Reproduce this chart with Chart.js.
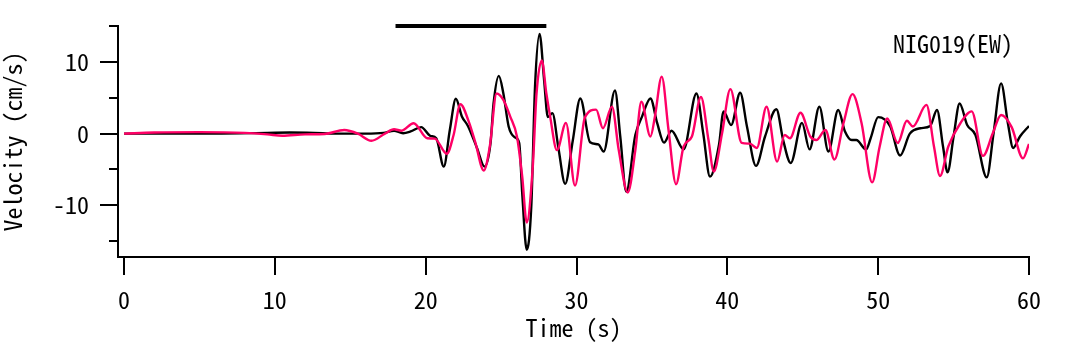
<!DOCTYPE html>
<html>
<head>
<meta charset="utf-8">
<script src="https://cdn.jsdelivr.net/npm/chart.js@4"></script>
<style>
  html, body { margin: 0; padding: 0; background: #fff; }
  #wrap { width: 1090px; height: 344px; }
</style>
</head>
<body>
<div id="wrap"><canvas id="chart" width="1090" height="344"></canvas></div>
<script>
// observed (black) trace, time in s, velocity in cm/s
const blackTime = [0, 3, 6, 9.5, 11, 12.6, 14, 16, 17.2, 17.9, 18.5, 19.0, 19.7, 20.3, 20.7, 21.2, 21.6, 22.0, 22.4, 22.8,
  23.4, 23.9, 24.3, 24.5, 24.85, 25.15, 25.5, 25.9, 26.2, 26.4, 26.7, 27.0, 27.25, 27.55, 27.85, 28.1, 28.4, 28.8,
  29.25, 29.75, 30.25, 30.9, 31.45, 31.8, 32.55, 32.9, 33.3, 33.9, 34.35, 34.9, 35.35, 35.8, 36.3, 37.1, 37.95,
  38.4, 38.85, 39.45, 39.75, 40.25, 40.85, 41.3, 41.9, 42.5, 43.25, 43.7, 44.2, 44.95, 45.45, 46.1, 46.7, 47.35,
  47.8, 48.25, 48.55, 49.2, 49.5, 50.0, 50.8, 51.45, 52.1, 52.8, 53.45, 53.9, 54.3, 54.6, 55.0, 55.4, 55.9, 56.45,
  57.2, 57.65, 58.15, 58.6, 58.95, 59.4, 60];
const blackVel = [0, 0, 0, 0.1, 0.15, 0.1, 0, 0, 0.1, 0.4, 0.05, 0.3, 0.9, -0.3, -0.65, -4.6, 0.5, 4.85, 2.4, 1.07,
  -2.0, -4.6, -1.3, 4.2, 8.05, 5.6, 1.0, -0.5, -1.3, -8.3, -16.2, -10.2, 6.6, 13.9, 7.5, 2.3, 2.85, -2.0,
  -7.0, -1.0, 4.9, -1.2, -1.5, -2.5, 6.0, -0.4, -8.1, -0.2, 2.4, 4.9, 1.45, -1.25, 0.4, -2.2, 5.6,
  0.05, -6.0, -1.5, 3.1, 1.2, 5.7, 1.0, -4.5, -0.4, 3.4, -0.9, -4.1, 1.5, -2.2, 3.75, -2.5, 3.3,
  0.3, -0.9, -0.9, -2.2, -0.65, 2.3, 1.0, -3.05, 0, 0.75, 1.07, 3.3, -1.8, -5.4, -0.4, 4.2, 1.2, -0.2,
  -6.1, 0.05, 7.0, 1.45, -2.0, -0.4, 1.07];

// synthetic (pink) trace
const pinkTime = [0, 2, 5, 8, 9.5, 10.5, 12, 13.3, 14.6, 15.5, 16.4, 17.3, 17.9, 18.4, 19.2, 20.1, 20.6, 21.4, 21.85,
  22.3, 22.85, 23.3, 23.85, 24.25, 24.7, 25.15, 25.6, 26.05, 26.4, 26.7, 27.1, 27.35, 27.7, 28.0, 28.25, 28.7,
  29.3, 29.9, 30.55, 31.3, 31.75, 32.35, 32.8, 33.4, 33.9, 34.3, 34.9, 35.2, 35.65, 36.1, 36.6, 37.1, 37.65,
  38.25, 38.75, 39.1, 39.65, 40.2, 40.95, 41.5, 41.95, 42.6, 43.3, 43.8, 44.15, 44.85, 45.5, 45.9, 46.5, 47.1,
  47.7, 48.3, 48.9, 49.6, 50.1, 50.6, 51.3, 51.9, 52.3, 53.2, 53.7, 54.1, 54.65, 55.45, 56.2, 56.95, 57.6,
  58.15, 58.85, 59.6, 60];
const pinkVel = [0, 0.15, 0.2, 0.1, -0.1, -0.3, -0.1, -0.05, 0.5, 0, -1.0, 0, 0.6, 0.4, 1.45, -0.65, -0.7, -2.8, -0.2,
  4.1, 1.7, -1.3, -5.15, -1.8, 5.6, 4.7, 2.4, -0.4, -6.0, -12.4, -4.6, 5.6, 10.2, 5.6, 2.4, -2.3,
  1.5, -7.25, 2.2, 3.35, 0.75, 3.75, -2.3, -8.2, -2.3, 4.45, -0.4, 2.4, 7.95, 0.5, -7.05, -1.8, -0.4,
  5.1, -0.9, -5.3, 0.05, 6.2, -1.3, -1.4, -2.0, 3.75, -3.9, -0.2, -0.65, 2.9, -0.4, -0.9, 0.5, -3.6,
  1.45, 5.5, 1.45, -6.8, -1.8, 2.1, -1.3, 1.8, 1.0, 4.0, -1.8, -5.9, -1.8, 1.45, 3.1, -3.1, 0.05,
  2.6, 0.9, -3.45, -1.45];

// analysis window bar on top
const windowTime = [18, 28];
const windowLevel = 15;

const minorTicks = [-15, -5, 5, 15];
const stationLabel = 'NIG019(EW)';

const FONT = "'Noto Sans Mono CJK JP', 'Liberation Mono', monospace";

function toPoints(xs, ys) {
  return xs.map((x, i) => ({ x: x, y: ys[i] }));
}

const extras = {
  id: 'extras',
  afterDraw(chart) {
    const ctx = chart.ctx;
    const yScale = chart.scales.y;
    const left = chart.chartArea.left;
    ctx.save();
    ctx.strokeStyle = '#000';
    ctx.lineWidth = 2;
    minorTicks.forEach((v) => {
      const py = Math.round(yScale.getPixelForValue(v));
      ctx.beginPath();
      ctx.moveTo(left - 9, py);
      ctx.lineTo(left, py);
      ctx.stroke();
    });
    ctx.font = '24px ' + FONT;
    ctx.fillStyle = '#000';
    ctx.textBaseline = 'middle';
    ctx.textAlign = 'left';
    ctx.fillText(stationLabel, chart.chartArea.right - 136, 44);
    ctx.restore();
  }
};

Chart.defaults.font.family = FONT;
Chart.defaults.font.size = 24;
Chart.defaults.color = '#000';

new Chart(document.getElementById('chart').getContext('2d'), {
  type: 'line',
  data: {
    datasets: [
      {
        data: toPoints(pinkTime, pinkVel),
        borderColor: '#ff0066',
        borderWidth: 2.4,
        pointRadius: 0,
        cubicInterpolationMode: 'monotone',
      },
      {
        data: toPoints(blackTime, blackVel),
        borderColor: '#000',
        borderWidth: 2.4,
        pointRadius: 0,
        cubicInterpolationMode: 'monotone',
      },
      {
        data: toPoints(windowTime, windowTime.map(() => windowLevel)),
        borderColor: '#000',
        borderWidth: 4,
        pointRadius: 0,
        clip: false,
      },
    ],
  },
  options: {
    responsive: false,
    animation: false,
    layout: { padding: { top: 26, right: 61, left: 0, bottom: 0 } },
    plugins: { legend: { display: false }, tooltip: { enabled: false } },
    scales: {
      x: {
        type: 'linear',
        min: -0.4,
        max: 60,
        ticks: { stepSize: 10, includeBounds: false, padding: 10, maxRotation: 0, autoSkip: false },
        grid: { drawOnChartArea: false, tickLength: 18, color: '#000', lineWidth: 2 },
        border: { color: '#000', width: 2 },
        title: { display: true, text: 'Time (s)', padding: { top: 0, bottom: 4 }, font: { lineHeight: 1 } },
        afterFit: (scale) => { scale.height = 87; },
      },
      y: {
        min: -17.2,
        max: 15,
        ticks: { stepSize: 10, includeBounds: false, padding: 11 },
        grid: { drawOnChartArea: false, tickLength: 18, color: '#000', lineWidth: 2 },
        border: { color: '#000', width: 2 },
        title: { display: true, text: 'Velocity (cm/s)', padding: { top: 1, bottom: 0 }, font: { lineHeight: 1 } },
        afterFit: (scale) => { scale.width = 118; },
      },
    },
  },
  plugins: [extras],
});
</script>
</body>
</html>
